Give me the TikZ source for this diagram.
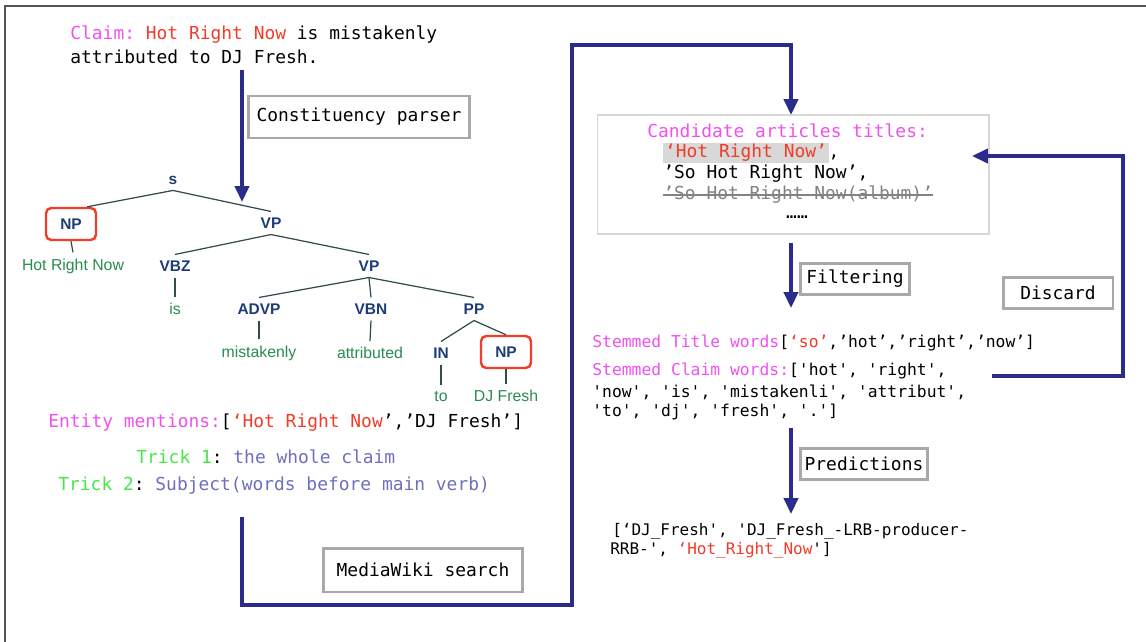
\documentclass[tikz,border=0pt]{standalone}
\usepackage{fontspec}
\setmonofont{DejaVu Sans Mono}
\newfontfamily\treefont{Liberation Sans}
\usetikzlibrary{arrows.meta}
\usetikzlibrary{calc}

\definecolor{flowblue}{RGB}{43,43,140}
\definecolor{boxgrey}{RGB}{168,168,168}
\definecolor{candgrey}{RGB}{215,215,215}
\definecolor{hlgrey}{RGB}{216,216,216}
\definecolor{strikegrey}{RGB}{130,130,130}
\definecolor{framegrey}{RGB}{85,85,85}
\definecolor{keymag}{RGB}{240,80,240}
\definecolor{entred}{RGB}{240,60,40}
\definecolor{tagblue}{RGB}{30,60,120}
\definecolor{leafgreen}{RGB}{40,140,80}
\definecolor{treeline}{RGB}{50,75,75}
\definecolor{trickgreen}{RGB}{70,230,70}
\definecolor{trickblue}{RGB}{110,110,190}

\newcommand{\codefont}{\ttfamily\fontsize{10.2}{12.2}\selectfont}
\newcommand{\stemfont}{\ttfamily\fontsize{9.3}{11}\selectfont}
\newcommand{\predfont}{\ttfamily\fontsize{9.1}{11}\selectfont}

\tikzset{
	flow/.style={draw=flowblue, line width=1.9pt, -{Triangle[width=8pt,length=9pt]}},
	labelbox/.style={draw=boxgrey, line width=1.7pt, fill=white, font=\codefont, inner sep=0pt},
	codeline/.style={anchor=west, inner sep=0pt, font=\codefont},
	tag/.style={font=\treefont\bfseries\fontsize{8.8}{10}\selectfont, text=tagblue},
	enttag/.style={tag, draw=entred, line width=1.4pt, rounded corners=3pt, minimum width=1.0cm, minimum height=0.64cm},
	leaf/.style={font=\treefont\fontsize{9}{10}\selectfont, text=leafgreen}
}

\begin{document}
\begin{tikzpicture}[x=0.02cm, y=-0.02cm]
	\useasboundingbox (0,0) rectangle (1146,642);
	\draw[framegrey, line width=1.2pt] (5,642) -- (5,6) -- (1146,6);

	\node[codeline] (claimA) at (70,35) {\textcolor{keymag}{Claim:} \textcolor{entred}{Hot Right Now} is mistakenly};
	\node[codeline] (claimB) at (70,57) {attributed to DJ Fresh.};

	\coordinate (parsefrom) at (242,70);
	\coordinate (parseto) at (242,202);
	\draw[flow] (parsefrom) -- (parseto);
	\node[labelbox, minimum width=4.44cm, minimum height=0.84cm] (parser) at (359,117) {Constituency parser};

	\foreach \name/\x/\y/\txt/\sty in {s/173/180/s/tag, np1/71/224/NP/enttag, vp1/271/223/VP/tag, vbz/175/266/VBZ/tag, vp2/369/266/VP/tag, advp/259/309/ADVP/tag, vbn/371/309/VBN/tag, pp/474/309/PP/tag, prep/441/353/IN/tag, np2/506/352/NP/enttag}
		\node[\sty] (\name) at (\x,\y) {\txt};
	\foreach \name/\x/\y/\txt in {hrn/73/266/Hot Right Now, is/175/309/is, mis/259/353/mistakenly, att/370/353/attributed, to/441/396/to, djf/506/396/DJ Fresh}
		\node[leaf] (\name) at (\x,\y) {\txt};
	\draw[treeline, line width=0.7pt] (s.south) -- ([xshift=-0.2cm]np1.north east);
	\foreach \a/\b in {s/vp1, np1/hrn, vp1/vbz, vp1/vp2, vbz/is, vp2/advp, vp2/vbn, vp2/pp, advp/mis, vbn/att, pp/prep, pp/np2, prep/to, np2/djf}
		\draw[treeline, line width=0.7pt] (\a.south) -- (\b.north);

	\node[codeline] (ents) at (48,423) {\textcolor{keymag}{Entity mentions:}[\textcolor{entred}{‘Hot Right Now}’,’DJ Fresh’]};
	\node[codeline] (trickA) at (136,457) {\textcolor{trickgreen}{Trick 1}: \textcolor{trickblue}{the whole claim}};
	\node[codeline] (trickB) at (58,486) {\textcolor{trickgreen}{Trick 2}: \textcolor{trickblue}{Subject(words before main verb)}};

	\coordinate (wikifrom) at (242,517);
	\coordinate (wikiturn) at (572,605);
	\coordinate (wikitop) at (572,45);
	\coordinate (candin) at (791,115);
	\draw[flow] (wikifrom) |- (wikiturn) -- (wikitop) -| (candin);
	\node[labelbox, minimum width=3.98cm, minimum height=0.88cm] (wiki) at (423,570) {MediaWiki search};

	\node[draw=candgrey, line width=0.6pt, minimum width=7.84cm, minimum height=2.38cm, inner sep=0pt] (cand) at (793,174.5) {};
	\node[codeline] (candA) at (647,131) {\textcolor{keymag}{Candidate articles titles:}};
	\node[codeline] (candB) at (663,153) {{\setlength{\fboxsep}{1pt}\colorbox{hlgrey}{\textcolor{entred}{‘Hot Right Now’}}},};
	\node[codeline] (candC) at (663,174) {’So Hot Right Now’,};
	\node[codeline, text=strikegrey] (candD) at (663,195) {’So Hot Right Now(album)’};
	\draw[strikegrey, line width=0.6pt] (candD.west) -- (candD.east);
	\node[inner sep=0pt, font=\codefont] (candE) at (797,217) {……};

	\coordinate (filtfrom) at (791,243);
	\coordinate (filtto) at (791,308);
	\draw[flow] (filtfrom) -- (filtto);
	\node[labelbox, minimum width=2.18cm, minimum height=0.62cm] (filt) at (855,279) {Filtering};

	\coordinate (discfrom) at (992,376);
	\coordinate (discturn) at (1123,376);
	\coordinate (discto) at (972,156);
	\draw[flow] (discfrom) -- (discturn) |- (discto);
	\node[labelbox, minimum width=2.2cm, minimum height=0.62cm] (disc) at (1058,293) {Discard};

	\node[codeline, font=\stemfont] (stemT) at (592,343) {\textcolor{keymag}{Stemmed Title words}[\textcolor{entred}{‘so’},’hot’,’right’,’now’]};
	\node[codeline, font=\stemfont] (stemA) at (592,371) {\textcolor{keymag}{Stemmed Claim words:}['hot', 'right',};
	\node[codeline, font=\stemfont] (stemB) at (592,392) {'now', 'is', 'mistakenli', 'attribut',};
	\node[codeline, font=\stemfont] (stemC) at (592,412) {'to', 'dj', 'fresh', '.']};

	\coordinate (predfrom) at (791,428);
	\coordinate (predto) at (791,514);
	\draw[flow] (predfrom) -- (predto);
	\node[labelbox, minimum width=2.54cm, minimum height=0.62cm] (pred) at (864,464) {Predictions};

	\node[codeline, font=\predfont] (predA) at (612,531) {[‘DJ\_Fresh', 'DJ\_Fresh\_-LRB-producer-};
	\node[codeline, font=\predfont] (predB) at (610,550) {RRB-', \textcolor{entred}{‘Hot\_Right\_Now}']};
\end{tikzpicture}
\end{document}
